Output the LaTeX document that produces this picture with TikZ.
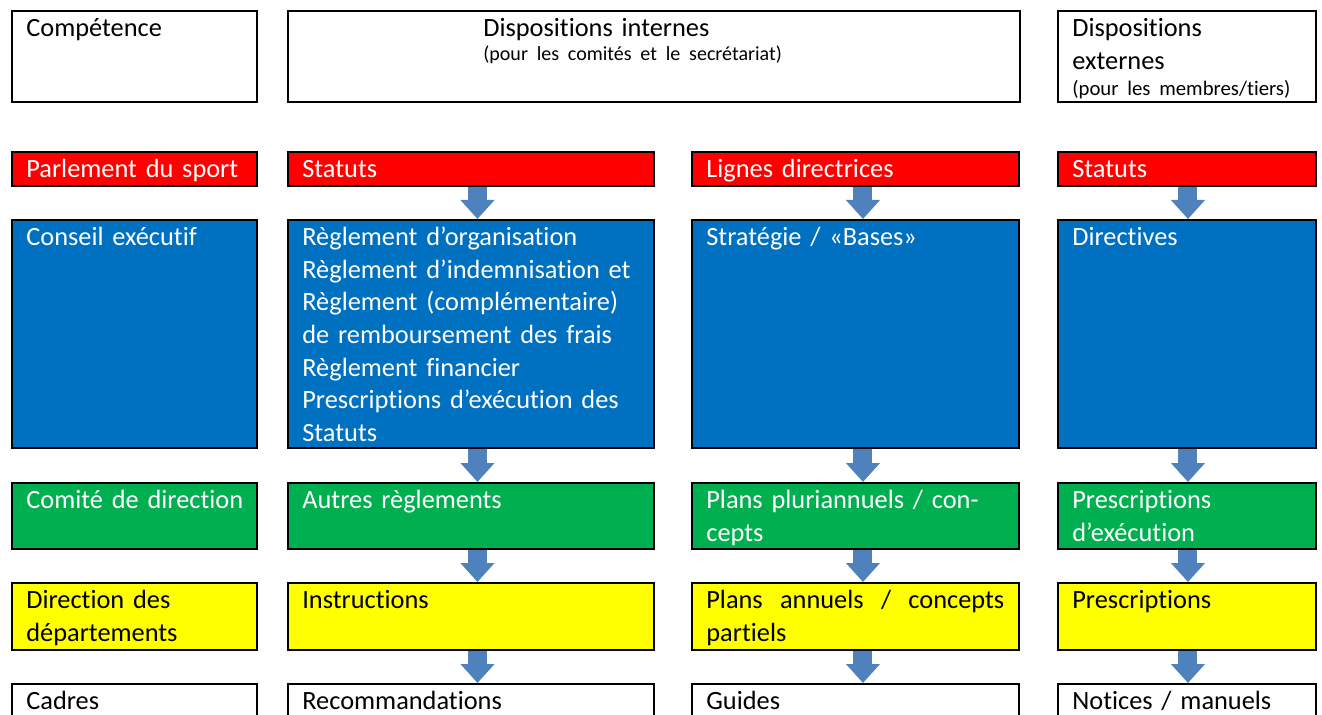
\documentclass[tikz,border=0pt]{standalone}
\usepackage{fontspec}
\setmainfont{Carlito}[Ligatures=NoCommon]
\usetikzlibrary{arrows.meta}
\definecolor{parlred}{HTML}{FF0000}
\definecolor{execblue}{HTML}{0070C0}
\definecolor{boardgreen}{HTML}{00B050}
\definecolor{deptyellow}{HTML}{FFFF00}
\definecolor{flowblue}{HTML}{4F81BD}

\newlength\px
\setlength\px{0.02cm}
\newlength\blocw
\newlength\blocd
\newlength\blocin
\newcommand\subt[1]{\fontsize{#1}{14pt}\selectfont}
% \bloc[inset]{name}{left}{top}{right}{bottom}{style}{text}
\newcommand\bloc[8][15]{%
  \setlength\blocw{\dimexpr\numexpr#5-#3\relax\px\relax}%
  \setlength\blocd{\dimexpr\numexpr#6-#4\relax\px\relax}%
  \setlength\blocin{\dimexpr\numexpr#5-#3-#1-6\relax\px\relax}%
  \node[cell,#7,minimum width=\blocw,minimum height=\blocd] (#2) at (#3,#4) {};
  \node[txt,#7,fill=none,text width=\blocin] (#2-t) at ([xshift=#1*0.02cm,yshift=-0.54cm]#2.north west) {#8};}

\begin{document}
\begin{tikzpicture}[x=0.02cm,y=-0.02cm,
    cell/.style={anchor=north west,draw=black,line width=1.1pt,inner sep=0pt},
    txt/.style={anchor=base west,inner sep=0pt,align=left,font=\fontsize{15pt}{18.5pt}\selectfont},
    parl/.style={fill=parlred,text=white},
    exec/.style={fill=execblue,text=white},
    board/.style={fill=boardgreen,text=white},
    dept/.style={fill=deptyellow,text=black},
    plain/.style={fill=white,text=black},
    flow/.style={draw=flowblue,line width=0.38cm,-{Triangle[width=0.66cm,length=0.38cm]}}]
  \useasboundingbox (0,0) rectangle (1322,715);

  % headings
  \bloc{comp}{11}{10}{256}{101}{plain}{Compétence}
  \bloc[196]{intern}{287}{10}{1019}{101}{plain}{Dispositions internes\\[-9\px]{\subt{11.4pt}(pour les comités et le secrétariat)}}
  \bloc{extern}{1057}{10}{1315}{101}{plain}{Dispositions\\externes\\[-6\px]{\subt{11.8pt}(pour les membres/tiers)}}

  % Parlement du sport
  \bloc{parl}{11}{151}{256}{185}{parl}{Parlement du sport}
  \bloc{statint}{287}{151}{653}{185}{parl}{Statuts}
  \bloc{lignes}{691}{151}{1018}{185}{parl}{Lignes directrices}
  \bloc{statext}{1057}{151}{1315}{185}{parl}{Statuts}

  % Conseil exécutif
  \bloc{conseil}{11}{219}{256}{447}{exec}{Conseil exécutif}
  \bloc{regl}{287}{219}{653}{447}{exec}{Règlement d’organisation\\Règlement d’indemnisation et\\Règlement (complémentaire)\\de remboursement des frais\\Règlement financier\\Prescriptions d’exécution des\\Statuts}
  \bloc{strat}{691}{219}{1018}{447}{exec}{Stratégie / «Bases»}
  \bloc{direct}{1057}{219}{1315}{447}{exec}{Directives}

  % Comité de direction
  \bloc{codir}{11}{482}{256}{548}{board}{Comité de direction}
  \bloc{autres}{287}{482}{653}{548}{board}{Autres règlements}
  \bloc{pluri}{691}{482}{1018}{548}{board}{Plans pluriannuels / con-\\cepts}
  \bloc{prescex}{1057}{482}{1315}{548}{board}{Prescriptions\\d’exécution}

  % Direction des départements
  \bloc{dirdep}{11}{582}{256}{649}{dept}{Direction des\\départements}
  \bloc{instr}{287}{582}{653}{649}{dept}{Instructions}
  \bloc{annuels}{691}{582}{1018}{649}{dept}{\hbox to 298\px{Plans\hfill annuels\hfill /\hfill concepts}\\partiels}
  \bloc{prescr}{1057}{582}{1315}{649}{dept}{Prescriptions}

  % Cadres
  \bloc{cadres}{11}{683}{256}{740}{plain}{Cadres}
  \bloc{recomm}{287}{683}{653}{740}{plain}{Recommandations}
  \bloc{guides}{691}{683}{1018}{740}{plain}{Guides}
  \bloc{notices}{1057}{683}{1315}{740}{plain}{Notices / manuels}

  \foreach \a/\b/\s in {statint/regl/0.13cm,regl/autres/0.13cm,autres/instr/0.13cm,instr/recomm/0.13cm,
      lignes/strat/0.15cm,strat/pluri/0.15cm,pluri/annuels/0.15cm,annuels/guides/0.15cm,
      statext/direct/0.02cm,direct/prescex/0.02cm,prescex/prescr/0.02cm,prescr/notices/0.02cm}
    \draw[flow] ([xshift=\s]\a.south) -- ([xshift=\s]\b.north);
\end{tikzpicture}
\end{document}
